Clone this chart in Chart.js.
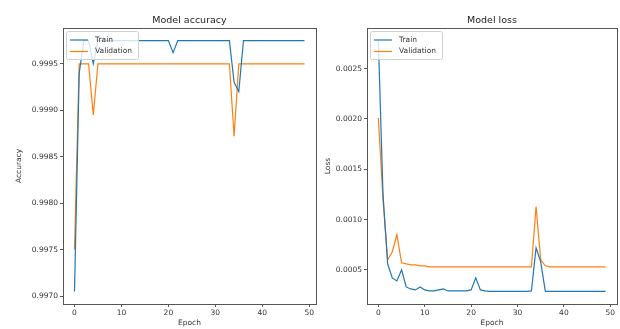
<!DOCTYPE html>
<html>
<head>
<meta charset="utf-8">
<script src="https://cdn.jsdelivr.net/npm/chart.js@4.4.1/dist/chart.umd.min.js"></script>
<style>
  html, body { margin: 0; padding: 0; background: #fff; }
  body { width: 620px; height: 329px; position: relative; overflow: hidden; }
  canvas { position: absolute; top: 0; }
  #accChart { left: 0; }
  #lossChart { left: 318px; }
</style>
</head>
<body>
<canvas id="accChart" width="330" height="329"></canvas>
<canvas id="lossChart" width="302" height="329"></canvas>
<script>
const epochs = [0, 1, 2, 3, 4, 5, 6, 7, 8, 9, 10, 11, 12, 13, 14, 15, 16, 17, 18, 19,
    20, 21, 22, 23, 24, 25, 26, 27, 28, 29, 30, 31, 32, 33, 34, 35, 36, 37, 38, 39,
    40, 41, 42, 43, 44, 45, 46, 47, 48, 49];

const trainAcc = [0.99705, 0.99940, 0.99975, 0.99975, 0.99950, 0.99975, 0.99975, 0.99975, 0.99975, 0.99975,
    0.99975, 0.99975, 0.99975, 0.99975, 0.99975, 0.99975, 0.99975, 0.99975, 0.99975, 0.99975,
    0.99975, 0.99962, 0.99975, 0.99975, 0.99975, 0.99975, 0.99975, 0.99975, 0.99975, 0.99975,
    0.99975, 0.99975, 0.99975, 0.99975, 0.99930, 0.99920, 0.99975, 0.99975, 0.99975, 0.99975,
    0.99975, 0.99975, 0.99975, 0.99975, 0.99975, 0.99975, 0.99975, 0.99975, 0.99975, 0.99975];

const valAcc = [0.99750, 0.99950, 0.99950, 0.99950, 0.99895, 0.99950, 0.99950, 0.99950, 0.99950, 0.99950,
    0.99950, 0.99950, 0.99950, 0.99950, 0.99950, 0.99950, 0.99950, 0.99950, 0.99950, 0.99950,
    0.99950, 0.99950, 0.99950, 0.99950, 0.99950, 0.99950, 0.99950, 0.99950, 0.99950, 0.99950,
    0.99950, 0.99950, 0.99950, 0.99950, 0.99872, 0.99950, 0.99950, 0.99950, 0.99950, 0.99950,
    0.99950, 0.99950, 0.99950, 0.99950, 0.99950, 0.99950, 0.99950, 0.99950, 0.99950, 0.99950];

const trainLoss = [0.00278, 0.00125, 0.00056, 0.00042, 0.00039, 0.00050, 0.00033, 0.00031, 0.00030, 0.00033,
    0.00030, 0.00029, 0.00029, 0.00030, 0.00031, 0.00029, 0.00029, 0.00029, 0.00029, 0.00029,
    0.00030, 0.00042, 0.00030, 0.00029, 0.000285, 0.000285, 0.000285, 0.000285, 0.000285, 0.000285,
    0.000285, 0.000285, 0.000285, 0.00029, 0.00072, 0.00058, 0.000285, 0.000285, 0.000285, 0.000285,
    0.000285, 0.000285, 0.000285, 0.000285, 0.000285, 0.000285, 0.000285, 0.000285, 0.000285, 0.000285];

const valLoss = [0.00201, 0.00120, 0.00060, 0.00068, 0.00085, 0.00057, 0.00056, 0.00055, 0.00055, 0.00054,
    0.00054, 0.00053, 0.00053, 0.00053, 0.00053, 0.00053, 0.00053, 0.00053, 0.00053, 0.00053,
    0.00053, 0.00053, 0.00053, 0.00053, 0.00053, 0.00053, 0.00053, 0.00053, 0.00053, 0.00053,
    0.00053, 0.00053, 0.00053, 0.00053, 0.00113, 0.00060, 0.00054, 0.00053, 0.00053, 0.00053,
    0.00053, 0.00053, 0.00053, 0.00053, 0.00053, 0.00053, 0.00053, 0.00053, 0.00053, 0.00053];

const epochTicks = [0, 10, 20, 30, 40, 50];
const accTicks = [0.9970, 0.9975, 0.9980, 0.9985, 0.9990, 0.9995];
const lossTicks = [0.0005, 0.0010, 0.0015, 0.0020, 0.0025];

const BLUE = "#1f77b4";
const ORANGE = "#ff7f0e";
const INK = "#333";
const FONT = "'DejaVu Sans', sans-serif";

// matplotlib-style 5% auto margins
function padRange(values) {
    const lo = Math.min(...values);
    const hi = Math.max(...values);
    const m = (hi - lo) * 0.05;
    return { min: lo - m, max: hi + m };
}

function points(ys) {
    return epochs.map((e, i) => ({ x: e, y: ys[i] }));
}

// title over the plot, frame on all four sides, legend box sitting on the plot
const framePlugin = {
    id: "frame",
    afterDatasetsDraw(chart, args, opts) {
        const { ctx, chartArea: a } = chart;
        ctx.save();
        ctx.strokeStyle = "#555";
        ctx.lineWidth = 1;
        ctx.strokeRect(Math.round(a.left) + 0.5, Math.round(a.top) + 0.5,
            Math.round(a.right - a.left), Math.round(a.bottom - a.top));

        ctx.font = "9.5px " + FONT;
        ctx.fillStyle = "#222";
        ctx.textAlign = "center";
        ctx.textBaseline = "middle";
        ctx.fillText(opts.title, (a.left + a.right) / 2, 21);

        const bx = a.left + 3, by = a.top + 3;
        ctx.font = "7.5px " + FONT;
        ctx.textAlign = "left";
        const labels = chart.data.datasets.map(d => d.label);
        const tw = Math.max(...labels.map(l => ctx.measureText(l).width));
        const bw = 29 + tw + 6, bh = 28;
        ctx.beginPath();
        ctx.roundRect(bx + 0.5, by + 0.5, bw, bh, 2);
        ctx.fillStyle = "rgba(255,255,255,0.8)";
        ctx.fill();
        ctx.strokeStyle = "#d0d0d0";
        ctx.stroke();

        chart.data.datasets.forEach((d, i) => {
            const y = by + 9 + i * 11.5;
            ctx.beginPath();
            ctx.moveTo(bx + 4, y);
            ctx.lineTo(bx + 22, y);
            ctx.strokeStyle = d.borderColor;
            ctx.lineWidth = 1.2;
            ctx.stroke();
            ctx.fillStyle = INK;
            ctx.fillText(d.label, bx + 29, y);
        });
        ctx.restore();
    }
};

function makeChart(id, title, yLabel, train, val, yTicks, yWidth, yTitlePad, rightPad) {
    const yr = padRange(train.concat(val));
    const xr = padRange(epochs);
    return new Chart(document.getElementById(id), {
        type: "line",
        data: {
            datasets: [
                { label: "Train", data: points(train), borderColor: BLUE, borderWidth: 1.2 },
                { label: "Validation", data: points(val), borderColor: ORANGE, borderWidth: 1.2 },
            ],
        },
        options: {
            responsive: false,
            animation: false,
            layout: { padding: { left: 0, right: rightPad, top: 28, bottom: 0 } },
            elements: { point: { radius: 0 }, line: { tension: 0 } },
            plugins: {
                legend: { display: false },
                tooltip: { enabled: false },
                frame: { title: title },
            },
            scales: {
                x: {
                    type: "linear",
                    min: xr.min,
                    max: xr.max,
                    afterBuildTicks: s => { s.ticks = epochTicks.map(v => ({ value: v })); },
                    afterFit: s => { s.height = 25; },
                    ticks: { color: INK, font: { family: FONT, size: 7.5 }, padding: 2, maxRotation: 0,
                        callback: v => String(v) },
                    grid: { drawOnChartArea: false, drawTicks: true, tickLength: 3, color: "#555" },
                    border: { display: false },
                    title: { display: true, text: "Epoch", color: INK, font: { family: FONT, size: 7.5 },
                        padding: { top: 0, bottom: 1 } },
                },
                y: {
                    min: yr.min,
                    max: yr.max,
                    afterBuildTicks: s => { s.ticks = yTicks.map(v => ({ value: v })); },
                    afterFit: s => { s.width = yWidth; },
                    ticks: { color: INK, font: { family: FONT, size: 7.5 }, padding: 2,
                        callback: v => Number(v).toFixed(4) },
                    grid: { drawOnChartArea: false, drawTicks: true, tickLength: 3, color: "#555" },
                    border: { display: false },
                    title: { display: true, text: yLabel, color: INK, font: { family: FONT, size: 7.5 },
                        padding: { top: yTitlePad, bottom: 0 } },
                },
            },
        },
        plugins: [framePlugin],
    });
}

makeChart("accChart", "Model accuracy", "Accuracy", trainAcc, valAcc, accTicks, 63, 15, 14);
makeChart("lossChart", "Model loss", "Loss", trainLoss, valLoss, lossTicks, 49, 5.5, 3);
</script>
</body>
</html>
